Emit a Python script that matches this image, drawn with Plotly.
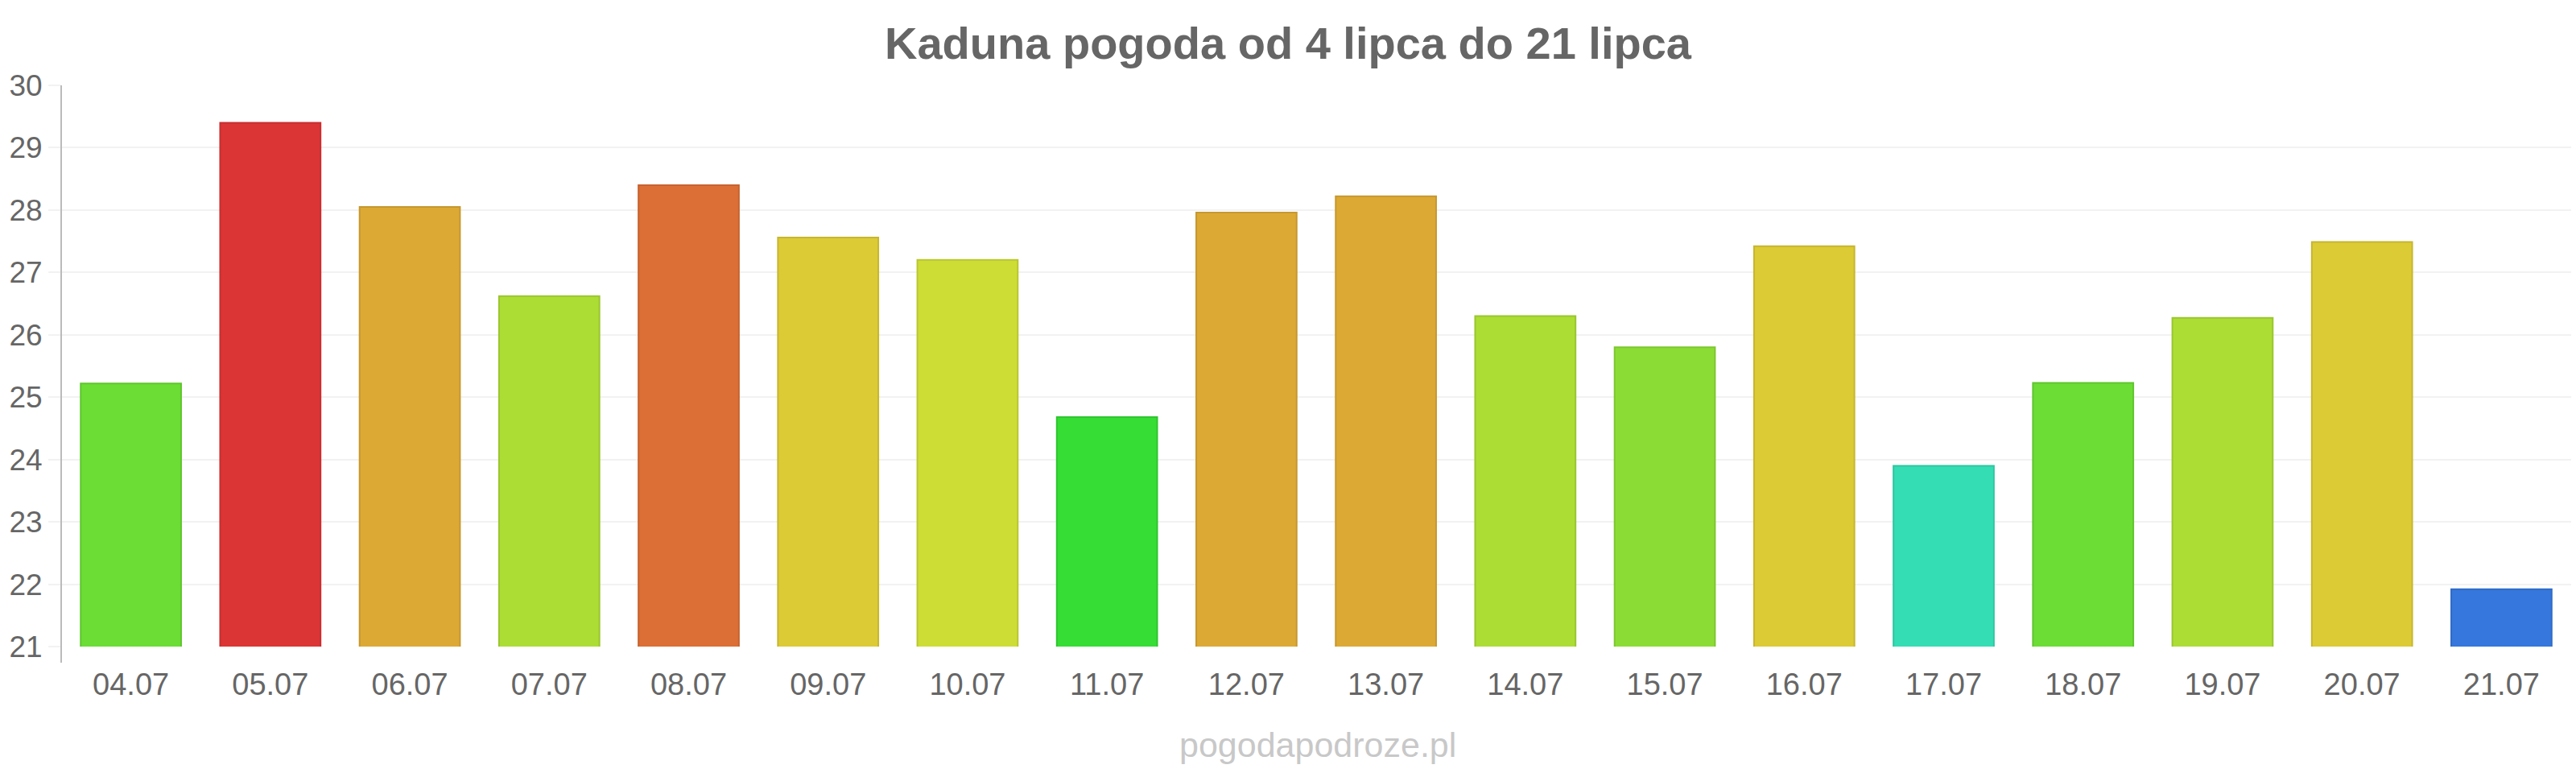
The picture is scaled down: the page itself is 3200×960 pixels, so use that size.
import plotly.graph_objects as go

dates = ["04.07", "05.07", "06.07", "07.07", "08.07", "09.07", "10.07", "11.07", "12.07",
         "13.07", "14.07", "15.07", "16.07", "17.07", "18.07", "19.07", "20.07", "21.07"]
temps = [25.22, 29.4, 28.05, 26.62, 28.4, 27.56, 27.2, 24.68, 27.96,
         28.22, 26.3, 25.8, 27.42, 23.9, 25.23, 26.27, 27.49, 21.92]
colors = ["#6bdd35", "#dc3535", "#dca935", "#acdd35", "#dc6f35", "#dccb35", "#cedd35", "#35dd35", "#dca935",
          "#dca935", "#acdd35", "#8bdd35", "#dccb35", "#35ddb4", "#6bdd35", "#acdd35", "#dccb35", "#3577dc"]
y_ticks = [21, 22, 23, 24, 25, 26, 27, 28, 29, 30]

def darker(hex_color, f=0.9):
    h = hex_color.lstrip("#")
    r, g, b = (int(h[i:i + 2], 16) for i in (0, 2, 4))
    return "#%02x%02x%02x" % (int(r * f), int(g * f), int(b * f))

W, H = 3200, 960
L, R, T, B = 76, 6, 106, 157

fig = go.Figure(go.Bar(
    x=dates, y=temps,
    marker=dict(color=colors, line=dict(color=[darker(c) for c in colors], width=2)),
))

fig.update_layout(
    width=W, height=H,
    margin=dict(l=L, r=R, t=T, b=B),
    paper_bgcolor="white", plot_bgcolor="white",
    bargap=0.28,
    showlegend=False,
    font=dict(family="Liberation Sans, Arial, sans-serif", color="#666666"),
    title=dict(text="<b>Kaduna pogoda od 4 lipca do 21 lipca</b>",
               x=0.5, xanchor="center", y=1 - 53 / H, yanchor="middle", yref="container",
               font=dict(size=56, color="#666666", family="Liberation Sans, Arial, sans-serif")),
)

fig.update_yaxes(range=[21, 30], tickvals=y_ticks, showgrid=True, gridcolor="#f2f2f2", gridwidth=2,
                 zeroline=False, showline=False, ticks="outside", ticklen=15, tickcolor="#f2f2f2",
                 tickwidth=2, tickfont=dict(size=37, color="#666666"), fixedrange=True)
fig.update_xaxes(showgrid=False, showline=False, ticks="outside", ticklen=13,
                 tickcolor="rgba(0,0,0,0)", tickfont=dict(size=38, color="#666666"),
                 fixedrange=True)

# left axis line (extends slightly below the plot)
fig.add_shape(type="line", xref="paper", yref="paper", x0=0, x1=0, y0=-20 / (H - T - B), y1=1,
              line=dict(color="#bbbbbb", width=2))

fig.add_annotation(text="pogodapodroze.pl", xref="paper", yref="paper",
                   x=(1637 - L) / (W - L - R), y=(H - B - 925) / (H - T - B),
                   xanchor="center", yanchor="middle", showarrow=False,
                   font=dict(size=43, color="#c8c8c8", family="Liberation Sans, Arial, sans-serif"))

fig.write_html("out.html")
